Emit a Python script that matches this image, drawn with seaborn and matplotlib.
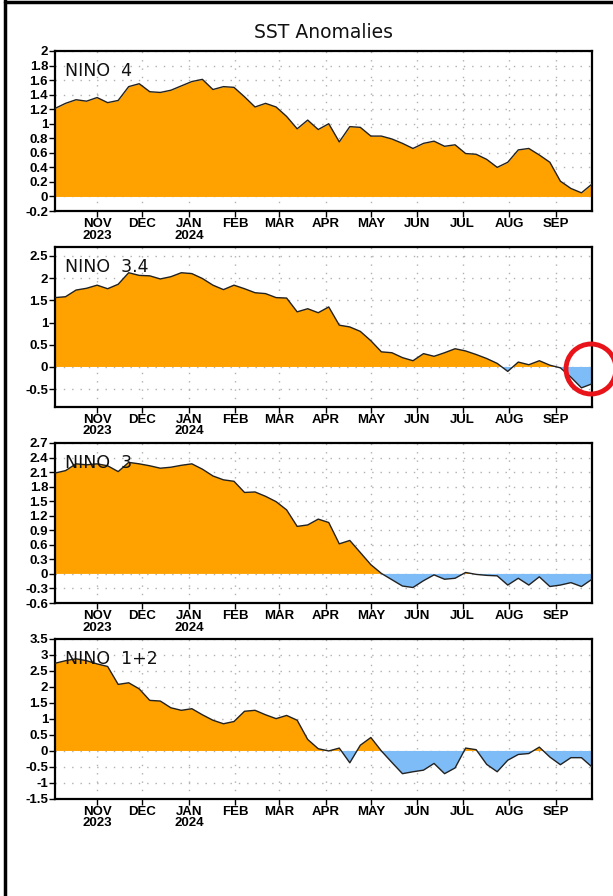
import numpy as np
import pandas as pd
import seaborn as sns
import matplotlib
matplotlib.use('Agg')
import matplotlib.pyplot as plt
from matplotlib.patches import Circle
from matplotlib.lines import Line2D

# weekly values, Wednesday-centred weeks, 4 Oct 2023 .. 25 Sep 2024
weeks = pd.date_range('2023-10-04', '2024-09-25', freq='7D')

nino4 = [1.21, 1.28, 1.33, 1.31, 1.36, 1.29, 1.32, 1.51, 1.55, 1.44,
         1.43, 1.46, 1.52, 1.58, 1.61, 1.47, 1.51, 1.50, 1.37, 1.23,
         1.28, 1.23, 1.10, 0.93, 1.05, 0.92, 1.00, 0.75, 0.96, 0.95,
         0.83, 0.83, 0.79, 0.73, 0.66, 0.73, 0.76, 0.69, 0.71, 0.59,
         0.58, 0.51, 0.40, 0.47, 0.64, 0.66, 0.57, 0.47, 0.21, 0.11,
         0.05, 0.17]
nino34 = [1.56, 1.58, 1.73, 1.77, 1.84, 1.76, 1.86, 2.12, 2.06, 2.05,
          1.98, 2.03, 2.12, 2.10, 1.99, 1.84, 1.74, 1.84, 1.76, 1.67,
          1.65, 1.56, 1.55, 1.24, 1.31, 1.22, 1.35, 0.94, 0.90, 0.80,
          0.59, 0.34, 0.32, 0.21, 0.14, 0.30, 0.24, 0.32, 0.41, 0.36,
          0.28, 0.19, 0.08, -0.10, 0.11, 0.05, 0.14, 0.04, -0.02, -0.23,
          -0.47, -0.38]
nino3 = [2.08, 2.13, 2.27, 2.25, 2.27, 2.23, 2.11, 2.30, 2.27, 2.23,
         2.18, 2.20, 2.24, 2.27, 2.16, 2.02, 1.94, 1.91, 1.68, 1.69,
         1.60, 1.49, 1.32, 0.98, 1.01, 1.13, 1.06, 0.62, 0.69, 0.44,
         0.19, 0.01, -0.12, -0.25, -0.28, -0.14, -0.02, -0.11, -0.09, 0.03,
         -0.01, -0.03, -0.04, -0.23, -0.09, -0.23, -0.06, -0.26, -0.23, -0.18,
         -0.26, -0.11]
nino12 = [2.74, 2.82, 2.88, 2.82, 2.72, 2.64, 2.08, 2.13, 1.94, 1.58,
          1.56, 1.35, 1.27, 1.32, 1.13, 0.96, 0.85, 0.92, 1.24, 1.27,
          1.13, 1.01, 1.11, 0.96, 0.36, 0.07, 0.00, 0.09, -0.37, 0.18,
          0.42, 0.00, -0.36, -0.71, -0.65, -0.60, -0.39, -0.71, -0.53, 0.09,
          0.04, -0.42, -0.65, -0.29, -0.11, -0.08, 0.12, -0.19, -0.43, -0.21,
          -0.21, -0.50]

regions = ['NINO  4', 'NINO  3.4', 'NINO  3', 'NINO  1+2']
series = [nino4, nino34, nino3, nino12]
ylims = [(-0.2, 2.0), (-0.9, 2.7), (-0.6, 2.7), (-1.5, 3.5)]
yticks = [np.arange(-0.2, 2.01, 0.2), np.arange(-0.5, 2.51, 0.5),
          np.arange(-0.6, 2.71, 0.3), np.arange(-1.5, 3.51, 0.5)]

month_starts = pd.date_range('2023-11-01', '2024-09-01', freq='MS')
month_labels = ['NOV\n2023', 'DEC', 'JAN\n2024', 'FEB', 'MAR', 'APR',
                'MAY', 'JUN', 'JUL', 'AUG', 'SEP']

sns.set_theme(style='white')
plt.rcParams['font.family'] = ['DejaVu Sans']

orange = '#ffa200'
blue = '#7dbcf7'

fig = plt.figure(figsize=(6.13, 8.96), dpi=100)
bottoms = [0.7645, 0.5458, 0.3270, 0.1083]

for name, vals, ylim, yt, b in zip(regions, series, ylims, yticks, bottoms):
    ax = fig.add_axes([0.0897, b, 0.876, 0.1786])
    df = pd.DataFrame({'week': weeks, 'anom': vals})
    v = np.array(vals)
    ax.fill_between(df['week'], 0, v, where=v >= 0, interpolate=True,
                    color=orange, lw=0, zorder=1)
    ax.fill_between(df['week'], 0, v, where=v <= 0, interpolate=True,
                    color=blue, lw=0, zorder=1)
    sns.lineplot(data=df, x='week', y='anom', ax=ax, color='#222222',
                 lw=1.0, zorder=3)
    ax.set_xlim(weeks[0], weeks[-1])
    ax.set_ylim(*ylim)
    ax.set_yticks(yt)
    ax.set_yticklabels(['%g' % round(t, 1) for t in yt])
    ax.set_xticks(month_starts)
    ax.set_xticklabels(month_labels)
    ax.set_xlabel('')
    ax.set_ylabel('')
    ax.grid(True, color='#b0b0b0', linestyle=(0, (1, 5)), lw=1.0, zorder=0)
    ax.tick_params(axis='both', direction='out', length=4, width=1,
                   color='black', labelcolor='black', bottom=True,
                   left=True, pad=1)
    for lab in ax.get_xticklabels() + ax.get_yticklabels():
        lab.set_fontfamily('Liberation Sans')
        lab.set_fontweight('bold')
        lab.set_fontsize(9.5)
        lab.set_linespacing(0.95)
    for sp in ax.spines.values():
        sp.set_visible(True)
        sp.set_color('black')
        sp.set_linewidth(1.6)
    ax.text(0.018, 0.93, name, transform=ax.transAxes, ha='left', va='top',
            fontsize=12.5, color='#111111', zorder=4)

fig.text(0.527, 0.964, 'SST Anomalies', ha='center', va='center',
         fontsize=13.5, color='#111111')

# page frame (top and left edges)
fig.add_artist(Line2D([0.008, 0.008], [0, 1], transform=fig.transFigure,
                      color='black', lw=2.5))
fig.add_artist(Line2D([0.008, 1], [0.998, 0.998], transform=fig.transFigure,
                      color='black', lw=2.5))

# red highlight ring around the latest NINO 3.4 weeks
ring = Circle((591, 896 - 369), 25, transform=None, fill=False,
              edgecolor='#e8141a', lw=3.5, zorder=10)
fig.add_artist(ring)

fig.savefig('out.png', dpi=100)
